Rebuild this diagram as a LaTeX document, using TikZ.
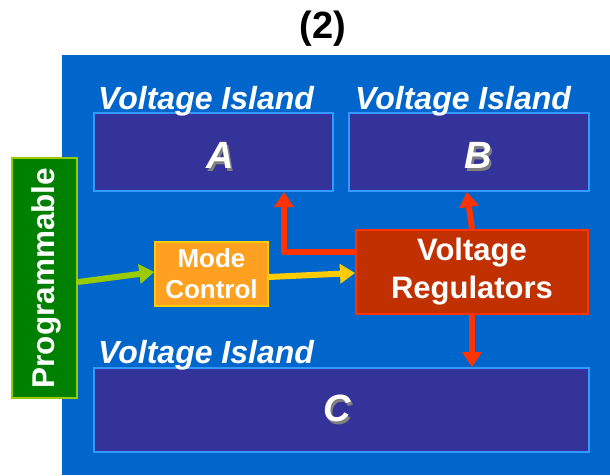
\documentclass[tikz,border=0pt]{standalone}
\usepackage{fontspec}
\setmainfont{Liberation Sans}
\usetikzlibrary{arrows.meta}
\definecolor{bgblue}{HTML}{0066CC}
\definecolor{islfill}{HTML}{333399}
\definecolor{islline}{HTML}{3399FF}
\definecolor{progfill}{HTML}{008000}
\definecolor{progline}{HTML}{99CC00}
\definecolor{mcfill}{HTML}{FFA020}
\definecolor{mcline}{HTML}{FFCC00}
\definecolor{vrfill}{HTML}{C03000}
\definecolor{vrline}{HTML}{FF3300}
\newcommand\shtext[1]{\makebox[0pt][l]{\hspace{2.5pt}\raisebox{-2.5pt}{\textcolor{gray}{#1}}}#1}
\begin{document}
\begin{tikzpicture}[x=1pt,y=-1pt,
  island/.style={draw=islline,fill=islfill,line width=2pt,inner sep=0pt},
  islandlabel/.style={anchor=base west,text=white,inner sep=0pt,font=\fontsize{32}{34}\selectfont\bfseries\itshape},
  letter/.style={text=white,inner sep=0pt,font=\fontsize{38}{40}\selectfont\bfseries\itshape},
  arr/.style={line width=6pt,-{Triangle[length=15pt,width=19pt]}},
]
\useasboundingbox (0,0) rectangle (610,475);
\node[fill=bgblue,inner sep=0pt,minimum width=548pt,minimum height=420pt,anchor=north west] (bg) at (62,55) {};
\node[font=\fontsize{38}{40}\selectfont\bfseries] (title) at (323,29) {(2)};

\node[island,minimum width=239pt,minimum height=78pt] (A) at (213.5,152) {};
\node[island,minimum width=240pt,minimum height=78pt] (B) at (469,152) {};
\node[island,minimum width=495pt,minimum height=84pt] (C) at (341.5,410) {};

\node[islandlabel] (la) at (98,109) {Voltage Island};
\node[islandlabel] (lb) at (355,109) {Voltage Island};
\node[islandlabel] (lc) at (98,363) {Voltage Island};

\node[letter] (ta) at (220,157) {\shtext{A}};
\node[letter] (tb) at (478,157) {\shtext{B}};
\node[letter] (tc) at (337,410) {\shtext{C}};

\node[draw=progline,fill=progfill,line width=2pt,inner sep=0pt,minimum width=65pt,minimum height=240pt] (prog) at (44.5,278) {};
\node[rotate=90,text=white,font=\fontsize{31.5}{33}\selectfont\bfseries] (progt) at (46,278) {Programmable};

\node[draw=mcline,fill=mcfill,line width=1.5pt,inner sep=0pt,minimum width=113pt,minimum height=64pt,text=white,align=center,font=\fontsize{26}{31}\selectfont\bfseries] (mc) at (211.5,274) {Mode\\Control};

\node[draw=vrline,fill=vrfill,line width=2pt,inner sep=0pt,minimum width=232pt,minimum height=84pt,text=white,align=center,font=\fontsize{31}{38}\selectfont\bfseries] (vr) at (472,272) {Voltage\\Regulators};

\draw[arr,draw=progline] ([yshift=-4pt]prog.east) -- ([yshift=2pt]mc.west);
\draw[arr,draw=mcline] ([yshift=-3pt]mc.east) -- ([yshift=-1pt]vr.west);
\draw[arr,draw=vrline,line join=round] ([yshift=20pt]vr.west) -| ([xshift=70.5pt]A.south);
\draw[arr,draw=vrline] (vr.north) -- ([xshift=-2pt]B.south);
\draw[arr,draw=vrline] (vr.south) -- (vr.south |- C.north);
\end{tikzpicture}
\end{document}
